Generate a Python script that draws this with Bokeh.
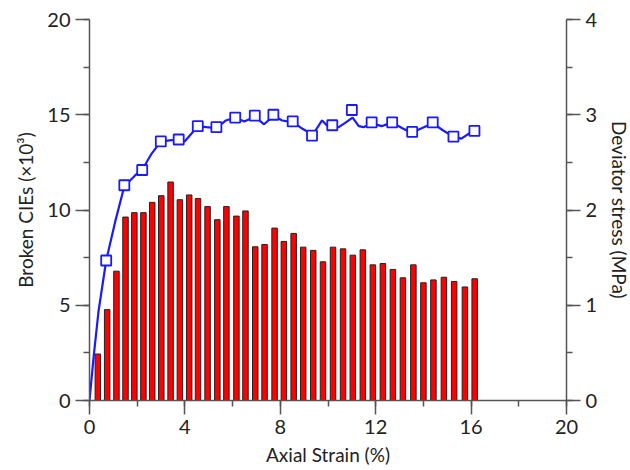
from bokeh.plotting import figure
from bokeh.models import Range1d, LinearAxis, SingleIntervalTicker
from bokeh.embed import file_html
from bokeh.resources import INLINE

# Broken CIEs (x10^3) per strain increment
bar_strain = [0.35, 0.74, 1.13, 1.51, 1.88, 2.26, 2.63, 3.01, 3.40, 3.79,
              4.18, 4.55, 4.95, 5.36, 5.74, 6.16, 6.54, 6.95, 7.34, 7.76,
              8.15, 8.56, 8.96, 9.38, 9.79, 10.21, 10.63, 11.04, 11.46, 11.88,
              12.30, 12.72, 13.14, 13.58, 14.00, 14.42, 14.86, 15.29, 15.74, 16.15]
broken_cies = [2.44, 4.77, 6.79, 9.63, 9.86, 9.86, 10.40, 10.75, 11.47, 10.54,
               10.79, 10.60, 10.18, 9.49, 10.18, 9.68, 9.95, 8.07, 8.19, 9.05,
               8.35, 8.77, 8.05, 7.88, 7.28, 8.05, 7.96, 7.63, 7.91, 7.12,
               7.19, 6.88, 6.44, 7.12, 6.18, 6.33, 6.47, 6.25, 5.96, 6.39]

# Deviator stress (MPa) curve
line_strain = [0, 0.17, 0.38, 0.70, 1.07, 1.46, 1.90, 2.23, 2.60, 2.99, 3.36, 3.74,
               3.99, 4.27, 4.54, 4.90, 5.32, 5.72, 6.11, 6.49, 6.93, 7.32, 7.72,
               8.08, 8.54, 8.95, 9.36, 9.75, 10.03, 10.45, 10.75, 11.03, 11.29,
               11.49, 11.84, 12.25, 12.67, 13.10, 13.50, 13.95, 14.40, 14.80,
               15.24, 15.59, 16.14]
line_stress = [0, 0.45, 0.94, 1.47, 1.87, 2.25, 2.36, 2.43, 2.59, 2.72, 2.73, 2.74,
               2.72, 2.80, 2.88, 2.87, 2.86, 2.94, 2.97, 2.93, 2.98, 2.90, 2.99,
               2.94, 2.92, 2.85, 2.79, 2.94, 2.87, 2.87, 2.92, 2.97, 2.88,
               2.87, 2.91, 2.88, 2.92, 2.86, 2.81, 2.86, 2.91, 2.84,
               2.77, 2.75, 2.84]
marker_strain = [0.70, 1.46, 2.21, 2.99, 3.74, 4.54, 5.32, 6.11, 6.93, 7.71,
                 8.52, 9.33, 10.18, 11.00, 11.83, 12.69, 13.53, 14.39, 15.26, 16.14]
marker_stress = [1.47, 2.26, 2.42, 2.72, 2.74, 2.88, 2.87, 2.97, 2.99, 3.00,
                 2.93, 2.78, 2.89, 3.05, 2.92, 2.92, 2.82, 2.92, 2.77, 2.83]

FONT = "Lato"
AXC = "#555555"

p = figure(frame_width=477, frame_height=381, x_range=Range1d(0, 20), y_range=Range1d(0, 20),
           output_backend="svg", toolbar_location=None,
           min_border_left=89, min_border_right=64, min_border_top=19, min_border_bottom=70,
           x_axis_type=None, y_axis_type=None)
p.outline_line_color = None
p.background_fill_color = "white"
p.border_fill_color = "white"
p.extra_y_ranges = {"stress": Range1d(0, 4)}


def style(ax, label):
    ax.axis_label = label
    ax.axis_line_color = AXC
    ax.axis_line_width = 1.5
    ax.major_tick_line_color = AXC
    ax.minor_tick_line_color = AXC
    ax.major_tick_line_width = 1.5
    ax.minor_tick_line_width = 1.5
    ax.major_tick_in = 0
    ax.major_tick_out = 14
    ax.minor_tick_in = 0
    ax.minor_tick_out = 6
    ax.major_label_text_font = FONT
    ax.major_label_text_font_size = "20px"
    ax.major_label_text_color = "#222222"
    ax.axis_label_text_font = FONT
    ax.axis_label_text_font_size = "19px"
    ax.axis_label_text_font_style = "normal"
    ax.axis_label_text_color = "#222222"
    ax.major_label_standoff = 5


xax = LinearAxis(ticker=SingleIntervalTicker(interval=4, num_minor_ticks=2))
style(xax, "Axial Strain (%)")
xax.axis_label_standoff = 6
p.add_layout(xax, "below")

yax = LinearAxis(ticker=SingleIntervalTicker(interval=5, num_minor_ticks=2))
style(yax, "Broken CIEs (×10³)")
yax.axis_label_standoff = 7
p.add_layout(yax, "left")

rax = LinearAxis(y_range_name="stress", ticker=SingleIntervalTicker(interval=1, num_minor_ticks=2))
style(rax, "Deviator stress (MPa)")
rax.axis_label_standoff = 8
p.add_layout(rax, "right")

p.vbar(x=bar_strain, top=broken_cies, width=0.23, fill_color="#ff0000",
       line_color="#222222", line_width=1)
p.line(line_strain, line_stress, y_range_name="stress", line_color="#1a1aff", line_width=2.2)
p.scatter(marker_strain, marker_stress, y_range_name="stress", marker="square", size=10,
          fill_color="white", line_color="#1a1aff", line_width=1.8)

open("out.html", "w").write(file_html(p, INLINE))
